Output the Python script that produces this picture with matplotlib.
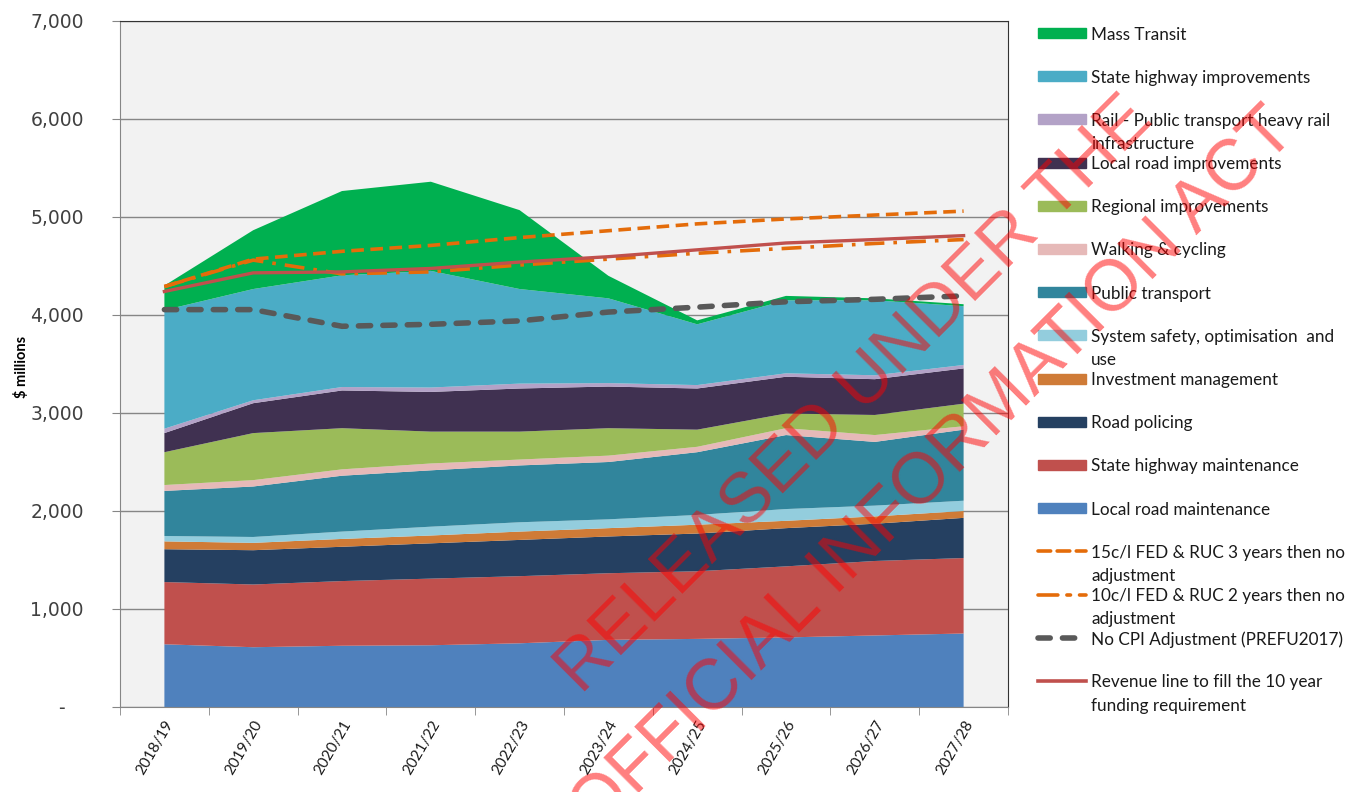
import matplotlib.pyplot as plt
import numpy as np
from matplotlib.patches import Rectangle
from matplotlib.lines import Line2D
from matplotlib.ticker import FuncFormatter, MultipleLocator

years = ["2018/19", "2019/20", "2020/21", "2021/22", "2022/23",
         "2023/24", "2024/25", "2025/26", "2026/27", "2027/28"]

# stacked activity classes, $ millions (bottom to top)
local_road_maint = [640, 610, 625, 630, 650, 685, 695, 710, 730, 750]
sh_maint = [635, 640, 660, 680, 685, 680, 690, 725, 760, 770]
road_policing = [335, 350, 350, 360, 370, 375, 385, 390, 380, 410]
invest_mgmt = [80, 75, 80, 80, 85, 85, 90, 75, 75, 70]
system_safety = [55, 60, 75, 90, 95, 90, 100, 120, 110, 105]
public_transport = [460, 515, 570, 575, 580, 585, 640, 755, 650, 725]
walking_cycling = [60, 65, 65, 70, 60, 65, 55, 70, 70, 35]
regional_impr = [335, 480, 420, 325, 285, 280, 175, 150, 205, 230]
local_road_impr = [195, 305, 385, 405, 440, 425, 420, 375, 365, 360]
rail = [45, 30, 35, 45, 50, 35, 35, 35, 40, 35]
sh_impr = [1210, 1135, 1140, 1190, 965, 865, 620, 745, 765, 600]
mass_transit = [250, 600, 860, 910, 805, 230, 40, 45, 20, 20]

# revenue scenarios
fed_15c = [4290, 4570, 4650, 4710, 4790, 4860, 4930, 4980, 5020, 5060]
fed_10c = [4290, 4560, 4420, 4440, 4510, 4570, 4630, 4680, 4730, 4770]
no_cpi = [4055, 4055, 3885, 3905, 3940, 4030, 4080, 4135, 4160, 4195]
revenue = [4240, 4430, 4440, 4475, 4540, 4595, 4665, 4735, 4770, 4810]

layers = [local_road_maint, sh_maint, road_policing, invest_mgmt, system_safety,
          public_transport, walking_cycling, regional_impr, local_road_impr,
          rail, sh_impr, mass_transit]
layer_names = ["Local road maintenance", "State highway maintenance", "Road policing",
               "Investment management", "System safety, optimisation  and\nuse",
               "Public transport", "Walking & cycling", "Regional improvements",
               "Local road improvements", "Rail - Public transport heavy rail\ninfrastructure",
               "State highway improvements", "Mass Transit"]
layer_cols = ["#4F81BD", "#C0504D", "#254061", "#CF7B37", "#93CDDD",
              "#31859C", "#E6B9B8", "#9BBB59", "#403151", "#B3A2C7",
              "#4BACC6", "#00B050"]

W, H = 1345, 792
fig = plt.figure(figsize=(W / 100, H / 100), dpi=100)
ax = fig.add_axes([120 / W, 1 - 707 / H, (1008 - 120) / W, (707 - 21) / H])
ax.set_facecolor("#F2F2F2")

x = np.arange(len(years))
ax.stackplot(x, *layers, colors=layer_cols, linewidth=0, zorder=2)

orange = "#E46C0A"
ax.plot(x, no_cpi, color="#595959", lw=4, linestyle=(0, (2.2, 2.2)),
        dash_capstyle="round", zorder=3)
ax.plot(x, fed_15c, color=orange, lw=2.6, linestyle=(0, (3.5, 1.8)), zorder=4)
ax.plot(x, fed_10c, color=orange, lw=2.6, linestyle=(0, (5.5, 2.5, 1, 2.5)), zorder=4)
ax.plot(x, revenue, color="#C0504D", lw=2.4, zorder=5)

ax.set_xlim(-0.5, 9.5)
ax.set_ylim(0, 7000)
ax.yaxis.set_major_locator(MultipleLocator(1000))
ax.yaxis.set_major_formatter(FuncFormatter(lambda v, p: "-   " if v == 0 else f"{v:,.0f}"))
ax.grid(axis="y", color="#868686", lw=1, zorder=1)
ax.set_axisbelow(True)

ax.set_xticks(x)
ax.set_xticklabels(years, rotation=60, ha="right", rotation_mode="anchor",
                   family="Lato", fontsize=11, color="#1a1a1a")
ax.set_xticks(np.arange(-0.5, 10, 1), minor=True)
ax.tick_params(axis="x", which="major", length=0, pad=8)
ax.tick_params(axis="x", which="minor", length=6, color="#868686", direction="out")
ax.tick_params(axis="y", length=6, color="#868686", pad=20, labelsize=13.5,
               labelcolor="#404040")
for s in ["left", "bottom"]:
    ax.spines[s].set_color("#868686")
for s in ["top", "right"]:
    ax.spines[s].set_color("#333333")

fig.text(22 / W, 1 - 367 / H, "$ millions", rotation=90, ha="center", va="center",
         family="Lato", fontweight="bold", fontsize=10.5)

# legend, drawn by hand to keep the spacing of the original
entries = []
for name, col in zip(layer_names[::-1], layer_cols[::-1]):
    entries.append((name, "patch", col, None))
entries.append(("15c/l FED & RUC 3 years then no\nadjustment", "line", orange, (0, (3.5, 1.8))))
entries.append(("10c/l FED & RUC 2 years then no\nadjustment", "line", orange, (0, (5.5, 2.5, 1, 2.5))))
entries.append(("No CPI Adjustment (PREFU2017)", "cpi", "#595959", (0, (2.2, 2.2))))
entries.append(("Revenue line to fill the 10 year\nfunding requirement", "line", "#C0504D", "-"))

for i, (name, kind, col, ls) in enumerate(entries):
    yc = 33 + 43.2 * i
    if kind == "patch":
        fig.add_artist(Rectangle((1038 / W, 1 - (yc + 5) / H), 48 / W, 10 / H,
                                 transform=fig.transFigure, color=col))
    else:
        lw = 4 if kind == "cpi" else 2.6
        fig.add_artist(Line2D([1038 / W, 1086 / W], [1 - yc / H, 1 - yc / H],
                              transform=fig.transFigure, color=col, lw=lw,
                              linestyle=ls, dash_capstyle="round"))
    for j, line in enumerate(name.split("\n")):
        fig.text(1091 / W, 1 - (yc + 23 * j) / H, line, ha="left", va="center_baseline",
                 family="Lato", fontsize=12.3, color="#1a1a1a")

# watermark
fig.text(856 / W, 1 - 396 / H, "RELEASED UNDER THE", rotation=45, rotation_mode="anchor",
         ha="center", va="center", family="Liberation Sans", fontsize=51,
         color="red", alpha=0.5, zorder=20)
fig.text(934 / W, 1 - 472 / H, "OFFICIAL INFORMATION ACT", rotation=45, rotation_mode="anchor",
         ha="center", va="center", family="Liberation Sans", fontsize=51.5,
         color="red", alpha=0.5, zorder=20)

fig.savefig("out.png", dpi=100)
